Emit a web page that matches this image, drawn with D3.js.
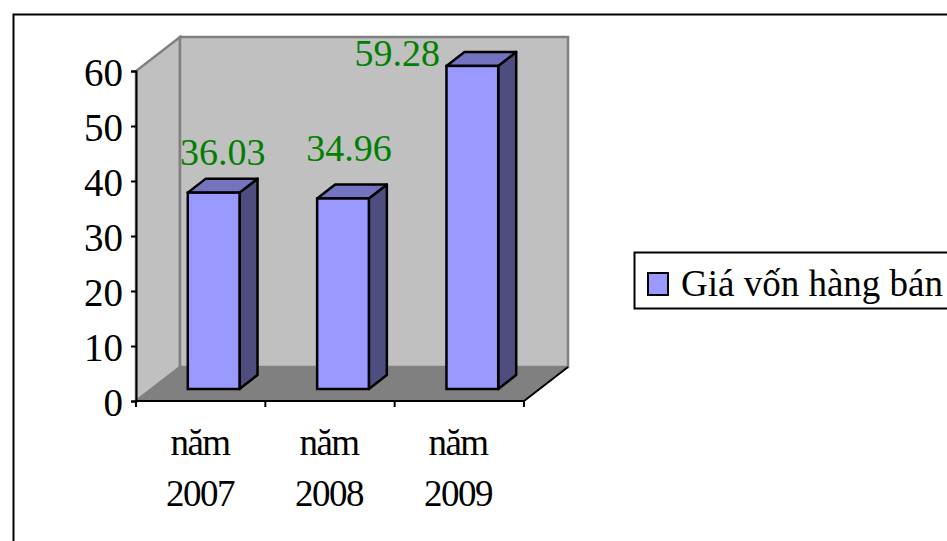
<!DOCTYPE html>
<html>
<head>
<meta charset="utf-8">
<script src="https://cdn.jsdelivr.net/npm/d3@7"></script>
<style>
    html, body { margin: 0; padding: 0; background: #fff; overflow: hidden; }
    svg { display: block; }
    text { font-family: "Liberation Serif", serif; }
</style>
</head>
<body>
<svg></svg>
<script>
const categories = ['năm 2007', 'năm 2008', 'năm 2009']
const values = [36.03, 34.96, 59.28]
const yTicks = [0, 10, 20, 30, 40, 50, 60]
const seriesName = 'Giá vốn hàng bán'

const width = 947, height = 541

const svg = d3.select('svg').attr('width', width).attr('height', height)

// outer frame, runs off the right and bottom of the picture
svg.append('rect')
    .attr('x', 13.5).attr('y', 14.5)
    .attr('width', 960).attr('height', 560)
    .attr('fill', '#fff').attr('stroke', '#000').attr('stroke-width', 2)

const x = d3.scaleBand().domain(categories).range([136, 524]).paddingInner(0.6).paddingOuter(0.3)
const y = d3.scaleLinear().domain([0, 60]).range([401, 71])
// bars sit part way into the box, so they have their own vertical scale
const barY = d3.scaleLinear().domain([0, 60]).range([389, 62])
// category labels are spaced a little tighter than the bands
const catX = d3.scalePoint().domain(categories).range([200, 458])

const wallDx = 44, wallDy = -34   // depth of the 3d box
const barShiftX = 13              // bar front face relative to the axis plane
const depthX = 18, depthY = -14   // depth of a bar

const line = d3.line()
const [x0, x1] = x.range()
const [yBottom, yTop] = y.range()

// side wall
svg.append('path')
    .attr('d', line([[x0, yBottom], [x0, yTop], [x0 + wallDx, yTop + wallDy], [x0 + wallDx, yBottom + wallDy]]) + 'Z')
    .attr('fill', '#c0c0c0').attr('stroke', '#808080').attr('stroke-width', 2.5)

// back wall
svg.append('path')
    .attr('d', line([[x0 + wallDx, yTop + wallDy], [x1 + wallDx, yTop + wallDy], [x1 + wallDx, yBottom + wallDy], [x0 + wallDx, yBottom + wallDy]]) + 'Z')
    .attr('fill', '#c0c0c0').attr('stroke', '#808080').attr('stroke-width', 2.5)

// floor
svg.append('path')
    .attr('d', line([[x0, yBottom], [x1, yBottom], [x1 + wallDx, yBottom + wallDy], [x0 + wallDx, yBottom + wallDy]]) + 'Z')
    .attr('fill', '#808080').attr('stroke', '#808080').attr('stroke-width', 1)

// front edge of the floor
svg.append('path')
    .attr('d', line([[x0, yBottom], [x1, yBottom], [x1 + wallDx, yBottom + wallDy]]))
    .attr('fill', 'none').attr('stroke', '#000').attr('stroke-width', 2)

// bars
const bars = svg.append('g')
    .selectAll('g')
    .data(values)
    .join('g')
    .attr('transform', (d, i) => `translate(${x(categories[i]) + barShiftX}, 0)`)

const bw = x.bandwidth()

bars.append('path')
    .attr('d', d => line([[bw, barY(d)], [bw + depthX, barY(d) + depthY], [bw + depthX, barY(0) + depthY], [bw, barY(0)]]) + 'Z')
    .attr('fill', '#4d4d80').attr('stroke', '#000').attr('stroke-width', 2.5).attr('stroke-linejoin', 'round')

bars.append('path')
    .attr('d', d => line([[0, barY(d)], [depthX, barY(d) + depthY], [bw + depthX, barY(d) + depthY], [bw, barY(d)]]) + 'Z')
    .attr('fill', '#7373bf').attr('stroke', '#000').attr('stroke-width', 2.5).attr('stroke-linejoin', 'round')

bars.append('rect')
    .attr('x', 0).attr('y', d => barY(d))
    .attr('width', bw).attr('height', d => barY(0) - barY(d))
    .attr('fill', '#9999ff').attr('stroke', '#000').attr('stroke-width', 2.5)

// data labels were dragged by hand in the original, nudge them per bar
const labelNudge = [[9, -28], [6, -37], [-75, 0]]
svg.append('g')
    .selectAll('text')
    .data(values)
    .join('text')
    .attr('x', (d, i) => x(categories[i]) + barShiftX + bw / 2 + labelNudge[i][0])
    .attr('y', (d, i) => barY(d) + labelNudge[i][1])
    .attr('text-anchor', 'middle')
    .attr('fill', '#008000')
    .style('font-size', '38px')
    .text(d => d.toFixed(2))

// y axis
const yAxis = svg.append('g')
    .attr('transform', `translate(${x0}, 0)`)
    .call(d3.axisLeft(y).tickValues(yTicks).tickSize(5).tickPadding(8).tickFormat(d3.format('d')))
yAxis.selectAll('path, line').attr('stroke', '#000').attr('stroke-width', 2)
yAxis.selectAll('text').attr('fill', '#000').attr('dy', '14px').style('font-size', '39px')
    .style('font-family', '"Liberation Serif", serif')

// x ticks fall on the band edges
const xEdges = d3.range(categories.length + 1).map(i => x0 + i * (x1 - x0) / categories.length)
svg.append('g')
    .selectAll('line')
    .data(xEdges)
    .join('line')
    .attr('x1', d => d).attr('x2', d => d)
    .attr('y1', yBottom).attr('y2', yBottom + 6)
    .attr('stroke', '#000').attr('stroke-width', 2)

// category labels wrap on two lines
const catLabels = svg.append('g')
    .selectAll('text')
    .data(categories)
    .join('text')
    .attr('text-anchor', 'middle')
    .attr('fill', '#000')
    .style('font-size', '37px')
    .style('letter-spacing', '-1.5px')
catLabels.selectAll('tspan')
    .data(d => d.split(' ').map(t => ({t, c: d})))
    .join('tspan')
    .attr('x', d => catX(d.c))
    .attr('y', (d, i) => 455 + i * 51)
    .text(d => d.t)

// legend
const legend = svg.append('g')
legend.append('rect')
    .attr('x', 634.5).attr('y', 252.5)
    .attr('width', 340).attr('height', 56)
    .attr('fill', '#fff').attr('stroke', '#000').attr('stroke-width', 2)
legend.append('rect')
    .attr('x', 648).attr('y', 273)
    .attr('width', 20).attr('height', 22)
    .attr('fill', '#9999ff').attr('stroke', '#000').attr('stroke-width', 2)
legend.append('text')
    .attr('x', 681).attr('y', 296)
    .attr('fill', '#000')
    .style('font-size', '37px')
    .text(seriesName)
</script>
</body>
</html>
